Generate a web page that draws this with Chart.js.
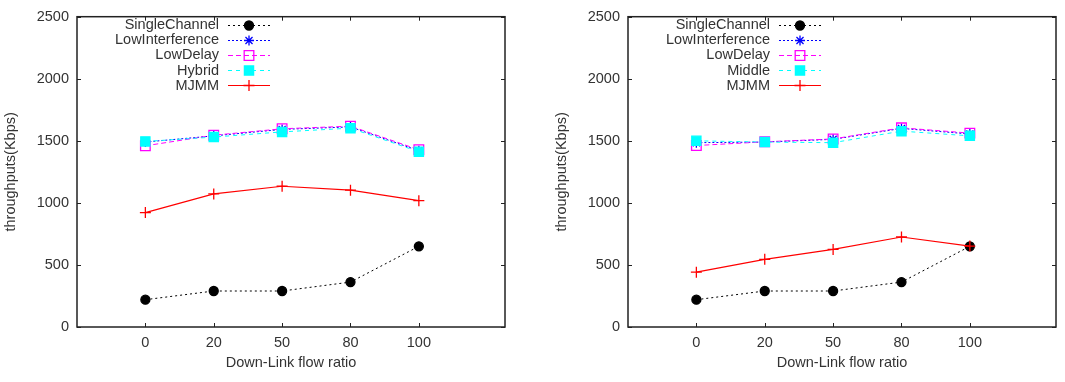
<!DOCTYPE html>
<html>
<head>
<meta charset="utf-8">
<script src="https://cdn.jsdelivr.net/npm/chart.js@4/dist/chart.umd.min.js"></script>
<style>
html,body{margin:0;padding:0;background:#fff;overflow:hidden;width:1065px;height:382px;}
canvas{position:absolute;top:0;}
#c1{left:0;}
#c2{left:551px;}
</style>
</head>
<body>
<canvas id="c1" width="514" height="382"></canvas>
<canvas id="c2" width="514" height="382"></canvas>
<script>
// ---- data ----
const categories = ['0', '20', '50', '80', '100'];
const yTicks = [0, 500, 1000, 1500, 2000, 2500];

// left chart
const leftSingleChannel   = [220, 290, 290, 362, 650];
const leftLowInterference = [1490, 1540, 1592, 1612, 1420];
const leftLowDelay        = [1460, 1545, 1597, 1618, 1428];
const leftHybrid          = [1495, 1530, 1572, 1602, 1412];
const leftMJMM            = [922, 1072, 1134, 1102, 1018];

// right chart
const rightSingleChannel   = [220, 290, 290, 362, 650];
const rightLowInterference = [1485, 1490, 1512, 1600, 1555];
const rightLowDelay        = [1462, 1492, 1515, 1605, 1562];
const rightMiddle          = [1500, 1490, 1485, 1578, 1540];
const rightMJMM            = [442, 545, 625, 725, 652];

const FONT = '"Liberation Sans", Arial, sans-serif';
const FS = 14.5;
const TXT = '#333';

const pts = arr => arr.map((v, i) => ({x: i, y: v}));

function makeDatasets(names, series) {
  const styles = [
    {color: '#000000', dash: [2, 3], style: 'circle', r: 4.5, fill: true, w: 1},
    {color: '#0000ff', dash: [2, 2], style: 'star', r: 5, fill: false, w: 1},
    {color: '#ff00ff', dash: [5, 3], style: 'rect', r: 6.8, fill: false, w: 1},
    {color: '#00ffff', dash: [4, 4], style: 'rect', r: 6.5, fill: true, w: 1},
    {color: '#ff0000', dash: [], style: 'cross', r: 5.5, fill: false, w: 1.2}
  ];
  return names.map((n, i) => ({
    label: n,
    data: pts(series[i]),
    borderColor: styles[i].color,
    backgroundColor: styles[i].fill ? styles[i].color : 'rgba(0,0,0,0)',
    pointBackgroundColor: styles[i].fill ? styles[i].color : 'rgba(0,0,0,0)',
    pointBorderColor: styles[i].color,
    pointBorderWidth: 1.3,
    borderWidth: styles[i].w,
    borderDash: styles[i].dash,
    pointStyle: styles[i].style,
    pointRadius: styles[i].r,
    pointHoverRadius: styles[i].r,
    tension: 0,
    fill: false,
    order: 5 - i
  }));
}

const boxPlugin = {
  id: 'gnuBox',
  afterDraw(chart) {
    const {ctx, chartArea: a, scales: {x, y}} = chart;
    ctx.save();
    ctx.strokeStyle = '#222';
    ctx.lineWidth = 1.5;
    ctx.setLineDash([]);
    ctx.strokeRect(a.left, a.top, a.right - a.left, a.bottom - a.top);
    ctx.lineWidth = 1;
    const tl = 4;
    ctx.beginPath();
    y.ticks.forEach(t => {
      const py = Math.round(y.getPixelForValue(t.value)) + 0.5;
      ctx.moveTo(a.left, py); ctx.lineTo(a.left + tl, py);
      ctx.moveTo(a.right, py); ctx.lineTo(a.right - tl, py);
    });
    x.ticks.forEach(t => {
      const px = Math.round(x.getPixelForValue(t.value)) + 0.5;
      ctx.moveTo(px, a.bottom); ctx.lineTo(px, a.bottom - tl);
      ctx.moveTo(px, a.top); ctx.lineTo(px, a.top + tl);
    });
    ctx.stroke();

    // legend
    const textRight = 219, lineL = 228, lineR = 270, mx = 249;
    const rowY0 = 24.5, rowH = 15.2;
    ctx.font = FS + 'px ' + FONT;
    ctx.textAlign = 'right';
    ctx.textBaseline = 'middle';
    chart.data.datasets.forEach((ds, i) => {
      const yy = rowY0 + i * rowH;
      ctx.fillStyle = TXT;
      ctx.fillText(ds.label, textRight, yy + 0.5);
      ctx.strokeStyle = ds.borderColor;
      ctx.lineWidth = ds.borderWidth;
      ctx.setLineDash(ds.borderDash);
      ctx.beginPath();
      ctx.moveTo(lineL, Math.round(yy) + 0.5);
      ctx.lineTo(lineR, Math.round(yy) + 0.5);
      ctx.stroke();
      ctx.setLineDash([]);
      ctx.fillStyle = ds.pointBackgroundColor;
      ctx.strokeStyle = ds.pointBorderColor;
      ctx.lineWidth = ds.pointBorderWidth;
      Chart.helpers.drawPoint(ctx, {pointStyle: ds.pointStyle, radius: ds.pointRadius, rotation: 0, borderWidth: ds.pointBorderWidth}, mx, Math.round(yy) + 0.5);
    });
    ctx.restore();
  }
};

function makeChart(id, names, series) {
  return new Chart(document.getElementById(id), {
    type: 'line',
    data: {datasets: makeDatasets(names, series)},
    plugins: [boxPlugin],
    options: {
      responsive: false,
      animation: false,
      devicePixelRatio: 1,
      layout: {padding: {top: 12, right: 9, left: 0, bottom: 0}},
      plugins: {legend: {display: false}, tooltip: {enabled: false}},
      events: [],
      scales: {
        x: {
          type: 'linear',
          min: -1,
          max: 5.26,
          afterBuildTicks: s => { s.ticks = categories.map((c, i) => ({value: i})); },
          afterFit: s => { s.height = 55; },
          grid: {display: false, drawTicks: false},
          border: {display: false},
          ticks: {
            callback: v => categories[v] !== undefined ? categories[v] : '',
            font: {family: FONT, size: FS},
            color: TXT,
            padding: 7,
            maxRotation: 0,
            autoSkip: false
          },
          title: {
            display: true,
            text: 'Down-Link flow ratio',
            font: {family: FONT, size: FS},
            color: TXT,
            padding: {top: 0, bottom: 10}
          }
        },
        y: {
          type: 'linear',
          min: 0,
          max: 2500,
          afterBuildTicks: s => { s.ticks = yTicks.map(v => ({value: v})); },
          afterFit: s => { s.width = 77; },
          grid: {display: false, drawTicks: false},
          border: {display: false},
          ticks: {
            callback: v => String(v),
            font: {family: FONT, size: FS},
            color: TXT,
            padding: 8
          },
          title: {
            display: true,
            text: 'throughputs(Kbps)',
            font: {family: FONT, size: FS},
            color: TXT,
            padding: {top: 2, bottom: 0}
          }
        }
      }
    }
  });
}

makeChart('c1', ['SingleChannel', 'LowInterference', 'LowDelay', 'Hybrid', 'MJMM'],
  [leftSingleChannel, leftLowInterference, leftLowDelay, leftHybrid, leftMJMM]);
makeChart('c2', ['SingleChannel', 'LowInterference', 'LowDelay', 'Middle', 'MJMM'],
  [rightSingleChannel, rightLowInterference, rightLowDelay, rightMiddle, rightMJMM]);
</script>
</body>
</html>
